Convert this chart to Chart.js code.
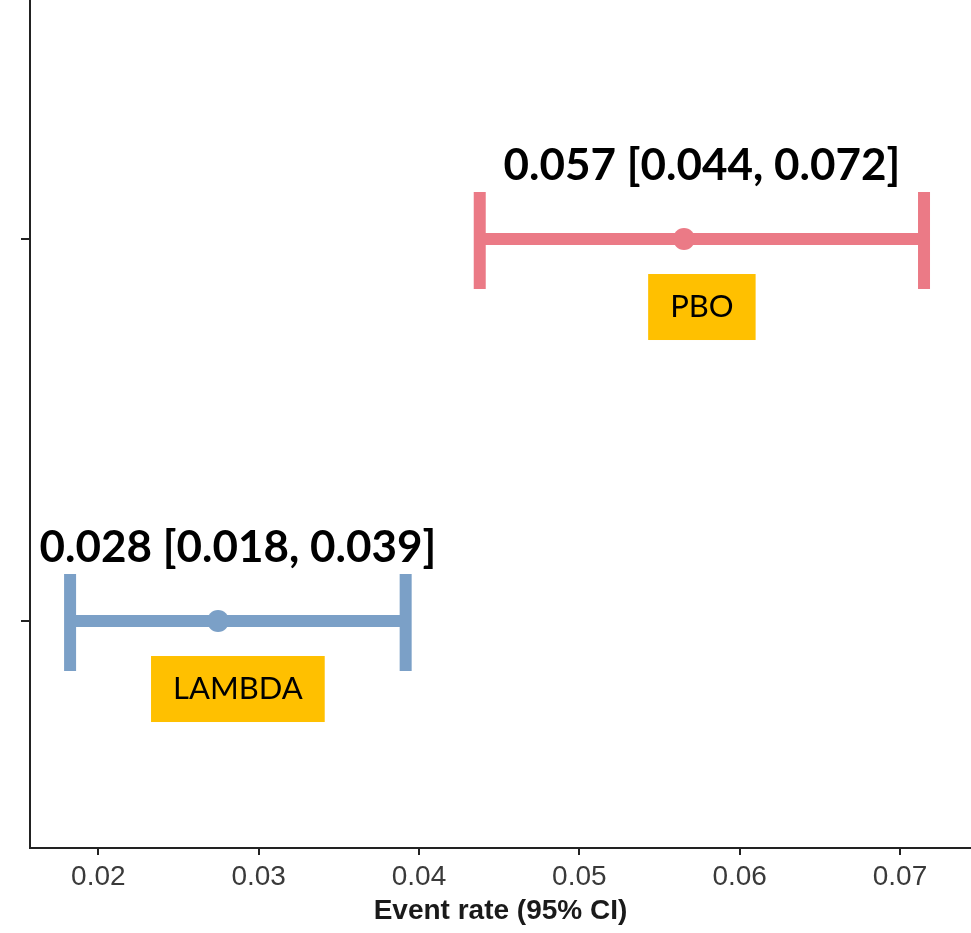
<!DOCTYPE html>
<html>
<head>
<meta charset="utf-8">
<script src="https://cdn.jsdelivr.net/npm/chart.js@4/dist/chart.umd.min.js"></script>
<style>
  html, body { margin: 0; padding: 0; background: #fff; }
  #wrap { width: 971px; height: 933px; position: relative; }
</style>
</head>
<body>
<div id="wrap"><canvas id="ciChart"></canvas></div>
<script>
// groups, bottom to top
const groups = ['LAMBDA', 'PBO'];
const groupRows = [1, 2];
const estimates = [0.02747, 0.05653];
const lowerCI = [0.01824, 0.04379];
const upperCI = [0.03917, 0.0715];
const ciLabels = ['0.028 [0.018, 0.039]', '0.057 [0.044, 0.072]'];
const colors = ['#7ba0c7', '#eb7a86'];
const xTickValues = [0.02, 0.03, 0.04, 0.05, 0.06, 0.07];
const xTickLabels = ['0.02', '0.03', '0.04', '0.05', '0.06', '0.07'];

// error bars + annotation text, drawn under the points
const errorBars = {
    id: 'errorBars',
    beforeDatasetsDraw(chart) {
        const { ctx, scales: { x, y } } = chart;
        ctx.save();
        groups.forEach((name, i) => {
            const yp = y.getPixelForValue(groupRows[i]);
            const x0 = x.getPixelForValue(lowerCI[i]);
            const x1 = x.getPixelForValue(upperCI[i]);
            ctx.strokeStyle = colors[i];
            ctx.lineWidth = 12;
            ctx.lineCap = 'butt';
            ctx.beginPath();
            ctx.moveTo(x0, yp);
            ctx.lineTo(x1, yp);
            ctx.moveTo(x0, yp - 47);
            ctx.lineTo(x0, yp + 50);
            ctx.moveTo(x1, yp - 47);
            ctx.lineTo(x1, yp + 50);
            ctx.stroke();

            const cx = (x0 + x1) / 2;
            // estimate [CI] text
            ctx.fillStyle = '#000';
            ctx.font = 'bold 44px Lato';
            ctx.textAlign = 'center';
            ctx.textBaseline = 'middle';
            ctx.fillText(ciLabels[i], cx, yp - 73);

            // group name in a yellow box
            ctx.font = '31px Lato';
            const w = ctx.measureText(name).width + 44;
            ctx.fillStyle = '#ffc000';
            ctx.fillRect(cx - w / 2, yp + 35, w, 66);
            ctx.fillStyle = '#000';
            ctx.fillText(name, cx, yp + 68);
        });
        ctx.restore();
    }
};

new Chart(document.getElementById('ciChart'), {
    type: 'scatter',
    data: {
        datasets: [{
            data: groups.map((g, i) => ({ x: estimates[i], y: groupRows[i] })),
            pointRadius: 11,
            pointHoverRadius: 11,
            pointBackgroundColor: colors,
            pointBorderWidth: 0,
            clip: false
        }]
    },
    options: {
        responsive: true,
        maintainAspectRatio: false,
        animation: false,
        layout: { padding: 0, autoPadding: false },
        plugins: {
            legend: { display: false },
            tooltip: { enabled: false }
        },
        scales: {
            x: {
                type: 'linear',
                min: 0.01574,
                max: 0.07443,
                afterBuildTicks: (scale) => {
                    scale.ticks = xTickValues.map(v => ({ value: v }));
                },
                afterFit: (scale) => {
                    scale.height = 85;
                    scale.paddingLeft = 0;
                    scale.paddingRight = 0;
                },
                border: { display: true, color: '#222', width: 2 },
                grid: {
                    drawOnChartArea: false,
                    drawTicks: true,
                    tickLength: 7,
                    color: '#222',
                    lineWidth: 2
                },
                ticks: {
                    color: '#3a3a3a',
                    padding: 5,
                    maxRotation: 0,
                    font: { family: 'Liberation Sans', size: 28 },
                    callback: (v) => xTickLabels[xTickValues.indexOf(v)] || ''
                },
                title: {
                    display: true,
                    text: 'Event rate (95% CI)',
                    color: '#1a1a1a',
                    padding: { top: 0, bottom: 5 },
                    font: { family: 'Liberation Sans', size: 28, weight: 'bold' }
                }
            },
            y: {
                type: 'linear',
                min: 0.4058,
                max: 2.6257,
                afterBuildTicks: (scale) => {
                    scale.ticks = groupRows.map(v => ({ value: v }));
                },
                afterFit: (scale) => {
                    scale.width = 30;
                    scale.paddingTop = 0;
                    scale.paddingBottom = 0;
                },
                border: { display: true, color: '#222', width: 2 },
                grid: {
                    drawOnChartArea: false,
                    drawTicks: true,
                    tickLength: 9,
                    color: '#222',
                    lineWidth: 2
                },
                ticks: {
                    display: false
                }
            }
        }
    },
    plugins: [errorBars]
});
</script>
</body>
</html>
